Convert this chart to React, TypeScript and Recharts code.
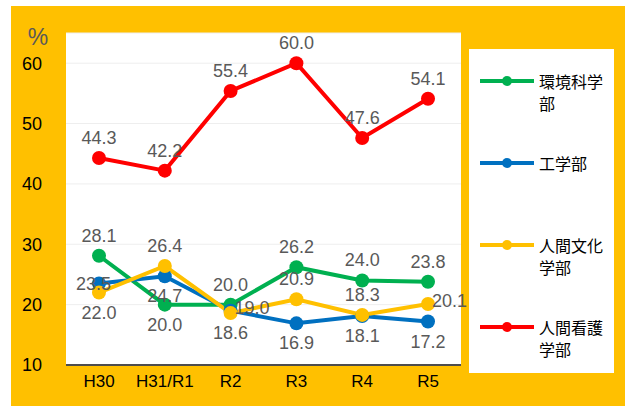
import { LineChart, Line, XAxis, YAxis, CartesianGrid, Legend, LabelList } from 'recharts';

const years = ['H30', 'H31/R1', 'R2', 'R3', 'R4', 'R5'];
const kankyo = [28.1, 20.0, 20.0, 26.2, 24.0, 23.8];
const kogaku = [23.5, 24.7, 19.0, 16.9, 18.1, 17.2];
const ningenBunka = [22.0, 26.4, 18.6, 20.9, 18.3, 20.1];
const ningenKango = [44.3, 42.2, 55.4, 60.0, 47.6, 54.1];
const yTicks = [10, 20, 30, 40, 50, 60];

// where each data label sits relative to its point
const kankyoPos = ['top', 'bottom', 'top', 'top', 'top', 'top'];
const kogakuPos = ['left', 'bottom', 'right', 'bottom', 'bottom', 'bottom'];
const bunkaPos = ['bottom', 'top', 'bottom', 'top', 'top', 'right'];
const kangoPos = ['top', 'top', 'top', 'top', 'top', 'top'];

const series = [
  { key: 'kankyo', name: '環境科学部', color: '#00B050', values: kankyo, pos: kankyoPos },
  { key: 'kogaku', name: '工学部', color: '#0070C0', values: kogaku, pos: kogakuPos },
  { key: 'bunka', name: '人間文化学部', color: '#FFC000', values: ningenBunka, pos: bunkaPos },
  { key: 'kango', name: '人間看護学部', color: '#FF0000', values: ningenKango, pos: kangoPos },
];

const data = years.map((year, i) => {
  const row: Record<string, string | number> = { year };
  series.forEach((s) => {
    row[s.key] = s.values[i];
  });
  return row;
});

const numFont = '"Liberation Sans", sans-serif';

const makeLabel = (pos: string[]) => (props: any) => {
  const x = props.x ?? props.viewBox?.x;
  const y = props.y ?? props.viewBox?.y;
  const p = pos[props.index] || 'top';
  let tx = x;
  let ty = y;
  let anchor: 'middle' | 'start' | 'end' = 'middle';
  if (p === 'top') ty = y - 20;
  else if (p === 'bottom') ty = y + 20;
  else if (p === 'left') {
    tx = x + 12;
    anchor = 'end';
  } else if (p === 'right') {
    tx = x + 4;
    ty = y - 3;
    anchor = 'start';
  }
  return (
    <text
      x={tx}
      y={ty}
      textAnchor={anchor}
      dominantBaseline="central"
      fill="#595959"
      fontSize={18}
      fontFamily={numFont}
    >
      {Number(props.value).toFixed(1)}
    </text>
  );
};

const renderLegend = () => (
  <div
    style={{
      background: '#fff',
      width: 145,
      height: 324,
      boxSizing: 'border-box',
      paddingTop: 21,
      fontFamily: '"Noto Sans CJK JP", sans-serif',
      fontSize: 16,
    }}
  >
    {series.map((s) => (
      <div key={s.key} style={{ display: 'flex', alignItems: 'flex-start', height: 82 }}>
        <svg width={70} height={22}>
          <line x1={11} x2={65} y1={11} y2={11} stroke={s.color} strokeWidth={4} />
          <circle cx={38} cy={11} r={5} fill={s.color} />
        </svg>
        <div style={{ width: 66, lineHeight: '22px', color: '#000' }}>{s.name}</div>
      </div>
    ))}
  </div>
);

const App = () => {
  return (
    <div style={{ position: 'absolute', left: 11, top: 6, width: 614, height: 400, background: '#FFC000' }}>
      <LineChart width={614} height={400} data={data} margin={{ top: 27, right: 164, bottom: 11, left: 0 }}>
        <CartesianGrid vertical={false} stroke="#eeeeee" fill="#ffffff" fillOpacity={1} />
        <XAxis
          dataKey="year"
          height={30}
          padding={{ left: 33, right: 33 }}
          tickLine={false}
          tickSize={0}
          tickMargin={10}
          axisLine={{ stroke: '#4d4d4d', strokeWidth: 2 }}
          tick={{ fill: '#000', fontSize: 17, fontFamily: numFont }}
        />
        <YAxis
          type="number"
          width={55}
          domain={[10, 65]}
          ticks={yTicks}
          allowDataOverflow
          axisLine={false}
          tickLine={false}
          tickSize={0}
          tickMargin={24}
          tick={{ fill: '#000', fontSize: 18, fontFamily: numFont }}
          label={{
            content: (props: any) => (
              <text
                x={(props.viewBox?.x ?? 0) + 27}
                y={(props.viewBox?.y ?? 0) + 4}
                textAnchor="middle"
                dominantBaseline="central"
                fill="#595959"
                fontSize={23}
                fontFamily={numFont}
              >
                %
              </text>
            ),
          }}
        />
        <Legend
          layout="vertical"
          align="center"
          verticalAlign="middle"
          content={renderLegend}
          wrapperStyle={{ position: 'absolute', left: 458, top: 43, width: 145, height: 324 }}
        />
        {series.map((s) => (
          <Line
            key={s.key}
            dataKey={s.key}
            name={s.name}
            stroke={s.color}
            strokeWidth={4}
            dot={{ r: 7, fill: s.color, stroke: s.color, strokeWidth: 0 }}
            activeDot={false}
            isAnimationActive={false}
          >
            <LabelList dataKey={s.key} content={makeLabel(s.pos)} />
          </Line>
        ))}
      </LineChart>
    </div>
  );
};

export default App;
